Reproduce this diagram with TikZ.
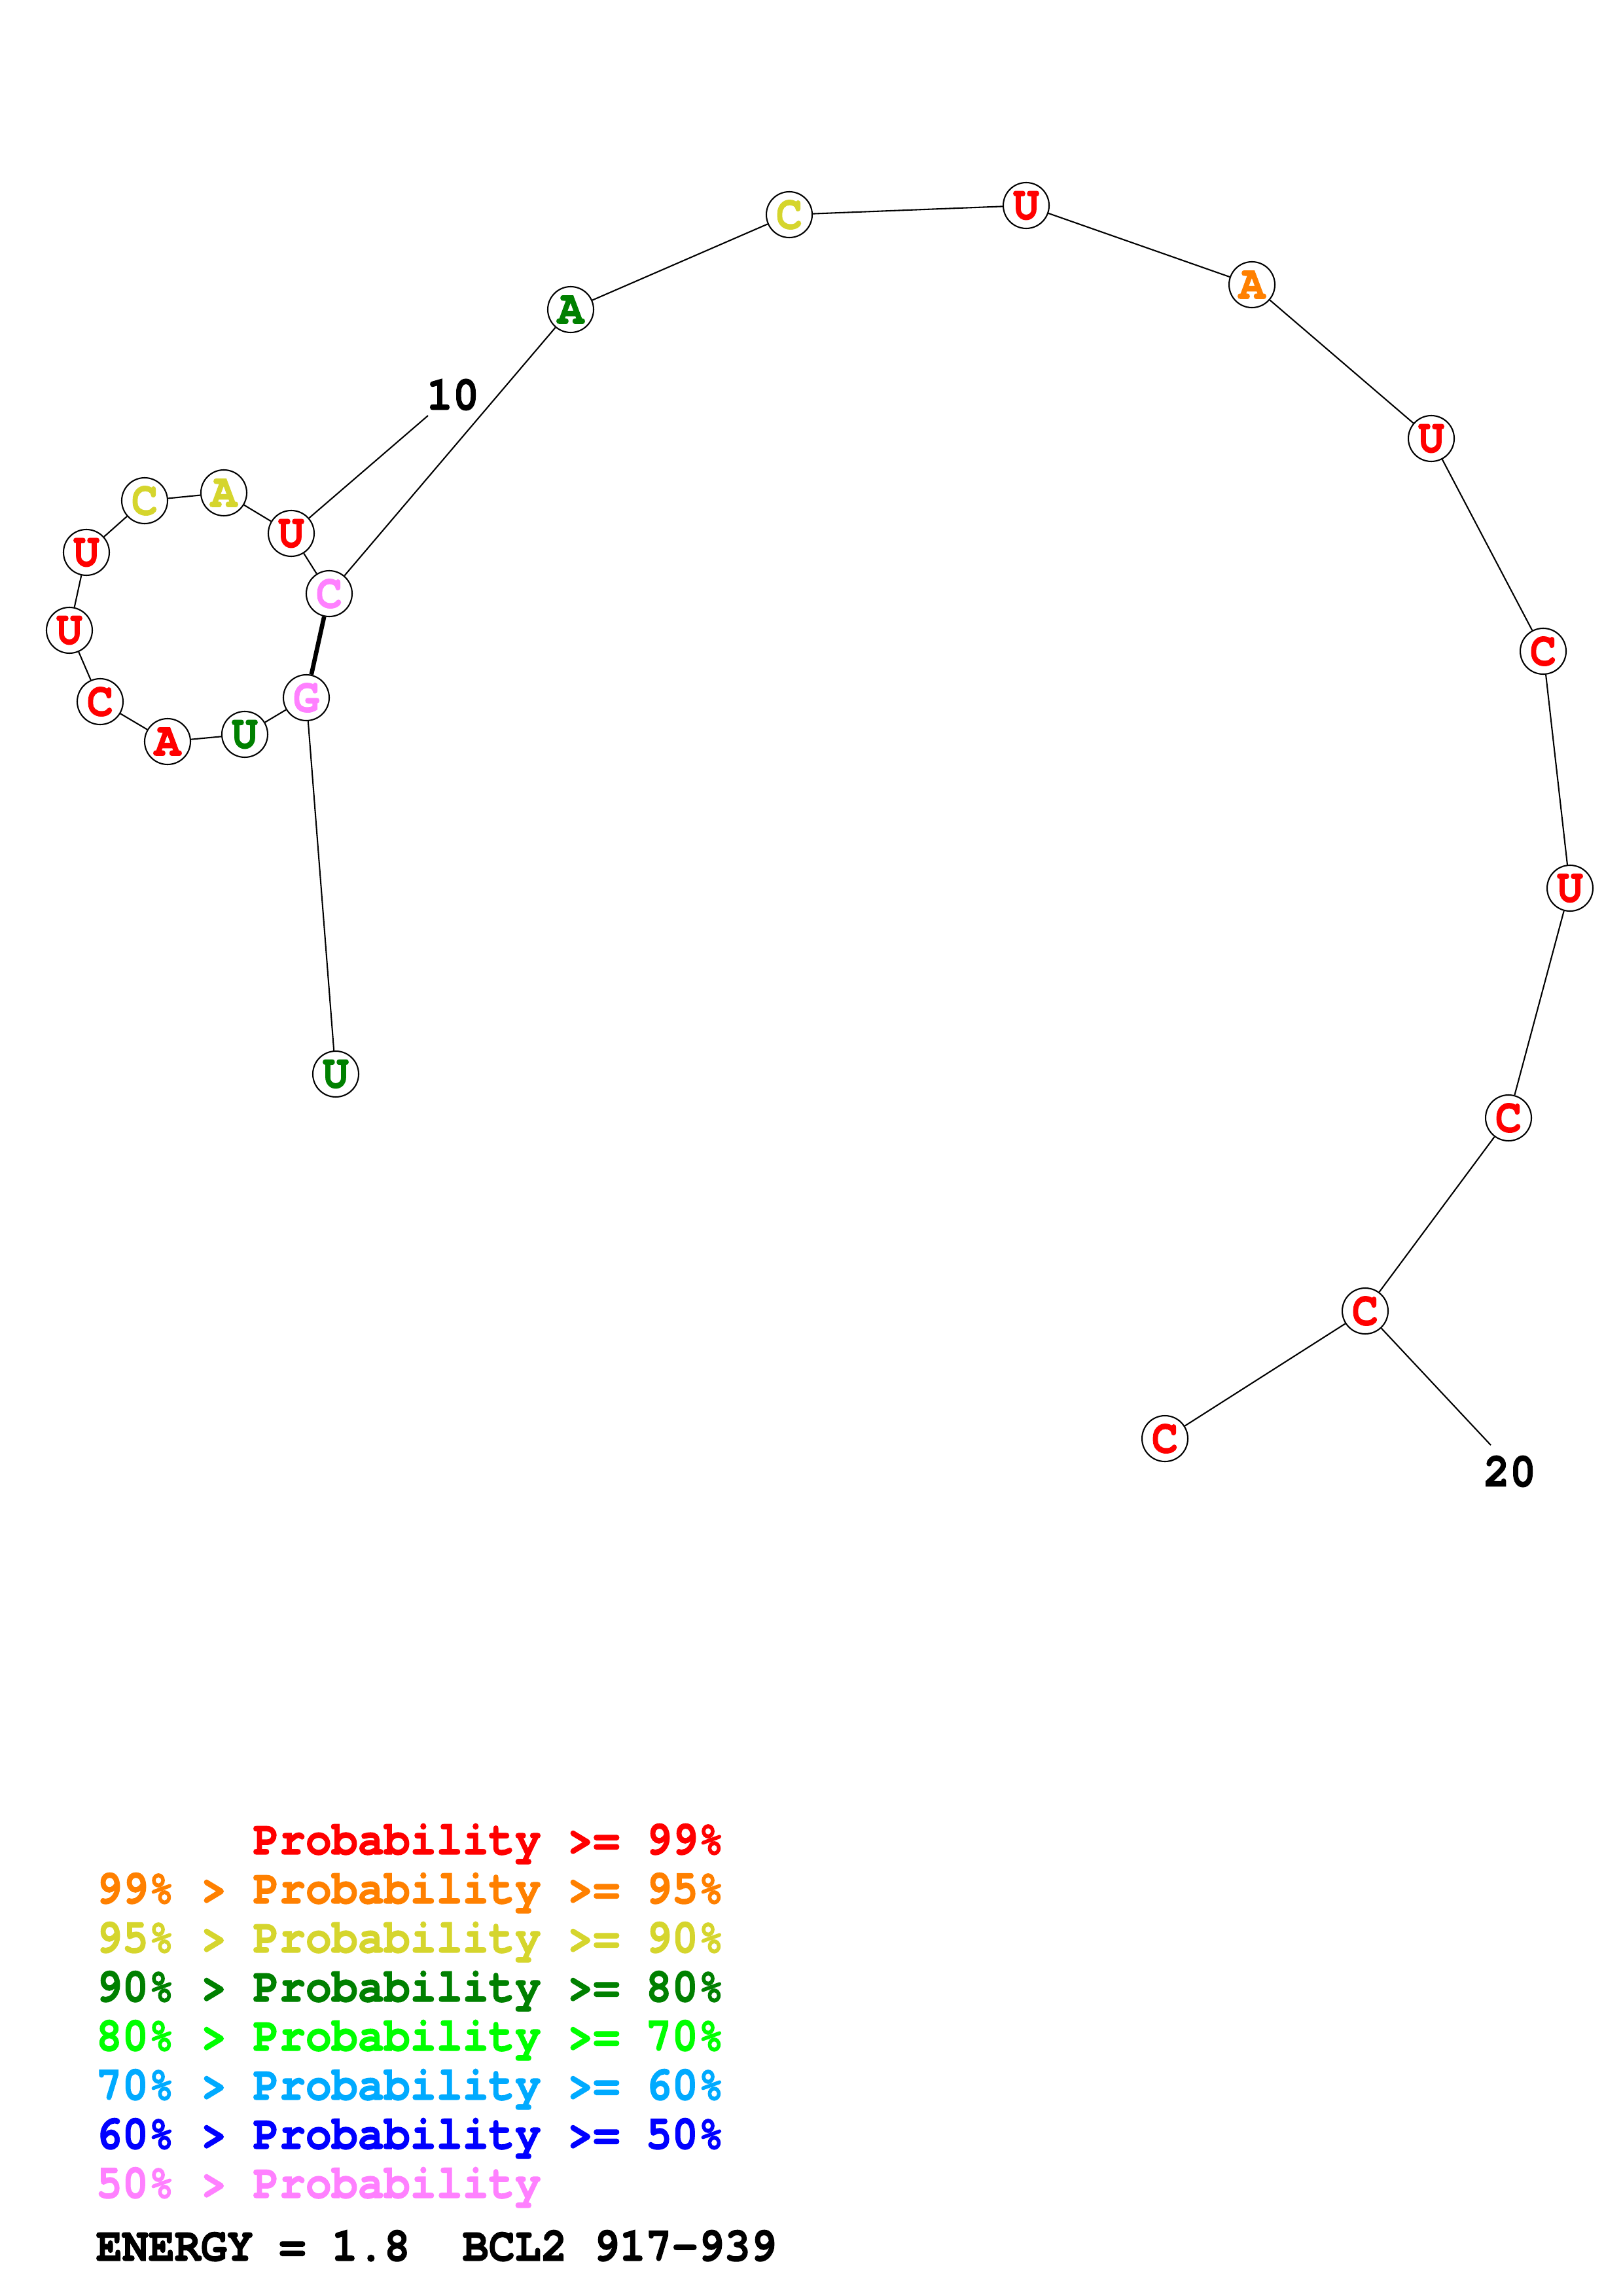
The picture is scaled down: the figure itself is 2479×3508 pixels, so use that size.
\documentclass[tikz,border=0pt]{standalone}
\usepackage{fontspec}
\setmonofont[BoldFeatures={FakeBold=1.6}]{TeX Gyre Cursor}
\usepackage{tikz}
\definecolor{pred}{RGB}{255,0,0}
\definecolor{porange}{RGB}{255,128,0}
\definecolor{pyellow}{RGB}{213,213,45}
\definecolor{pdkgreen}{RGB}{0,128,0}
\definecolor{pgreen}{RGB}{0,255,0}
\definecolor{pcyan}{RGB}{0,170,255}
\definecolor{pblue}{RGB}{0,0,255}
\definecolor{ppink}{RGB}{255,128,255}
\newcommand{\legfont}{\ttfamily\bfseries\fontsize{16}{16}\selectfont}
\newcommand{\tall}[1]{\scalebox{1}[1.1]{#1}}

\begin{document}
\begin{tikzpicture}[x=0.24pt,y=-0.24pt,
  base/.style={circle,draw,line width=0.5pt,fill=white,minimum size=16.8pt,inner sep=0pt,font=\legfont},
  bond/.style={line width=0.5pt},
  pair/.style={line width=1.6pt},
  legend/.style={anchor=base west,inner sep=0pt,font=\legfont}]
\useasboundingbox (0,0) rectangle (2479,3508);

% bases
\foreach \i/\x/\y/\b/\c in {1/513/1641/U/pdkgreen, 2/468/1066/G/ppink, 3/374/1122/U/pdkgreen,
  4/256/1133/A/pred, 5/153/1072/C/pred, 6/106/963/U/pred, 7/132/844/U/pred,
  8/221/765/C/pyellow, 9/342/753/A/pyellow, 10/445/815/U/pred, 11/503/907/C/ppink,
  12/872/473/A/pdkgreen, 13/1206/328/C/pyellow, 14/1568/314/U/pred, 15/1913/435/A/porange,
  16/2187/670/U/pred, 17/2358/995/C/pred, 18/2399/1357/U/pred, 19/2305/1708/C/pred,
  20/2086/2003/C/pred, 21/1780/2198/C/pred}
  \node[base,text=\c] (n\i) at (\x,\y) {\tall{\b}};

% backbone
\begin{scope}[on background layer/.try]
\foreach \i [count=\j from 2] in {1,...,20}
  \draw[bond] (n\i) -- (n\j);
\end{scope}
\draw[pair] (n2) -- (n11);

% numbering
\coordinate (t10) at (654,635);
\coordinate (t20) at (2278,2208);
\node[font=\legfont,inner sep=0pt] (l10) at (692,603) {\tall{10}};
\node[font=\legfont,inner sep=0pt] (l20) at (2307,2248) {\tall{20}};
\draw[bond] (n10) -- (t10);
\draw[bond] (n20) -- (t20);

% legend
\node[legend,text=pred] (r1) at (386,2833) {\tall{Probability >= 99\%}};
\node[legend,text=porange] (r2) at (146,2908) {\tall{99\% > Probability >= 95\%}};
\node[legend,text=pyellow] (r3) at (146,2983) {\tall{95\% > Probability >= 90\%}};
\node[legend,text=pdkgreen] (r4) at (146,3058) {\tall{90\% > Probability >= 80\%}};
\node[legend,text=pgreen] (r5) at (146,3133) {\tall{80\% > Probability >= 70\%}};
\node[legend,text=pcyan] (r6) at (146,3208) {\tall{70\% > Probability >= 60\%}};
\node[legend,text=pblue] (r7) at (146,3283) {\tall{60\% > Probability >= 50\%}};
\node[legend,text=ppink] (r8) at (146,3358) {\tall{50\% > Probability}};
\node[legend] (energy) at (146,3454) {\tall{ENERGY = 1.8\ \ BCL2 917-939}};

\end{tikzpicture}
\end{document}
